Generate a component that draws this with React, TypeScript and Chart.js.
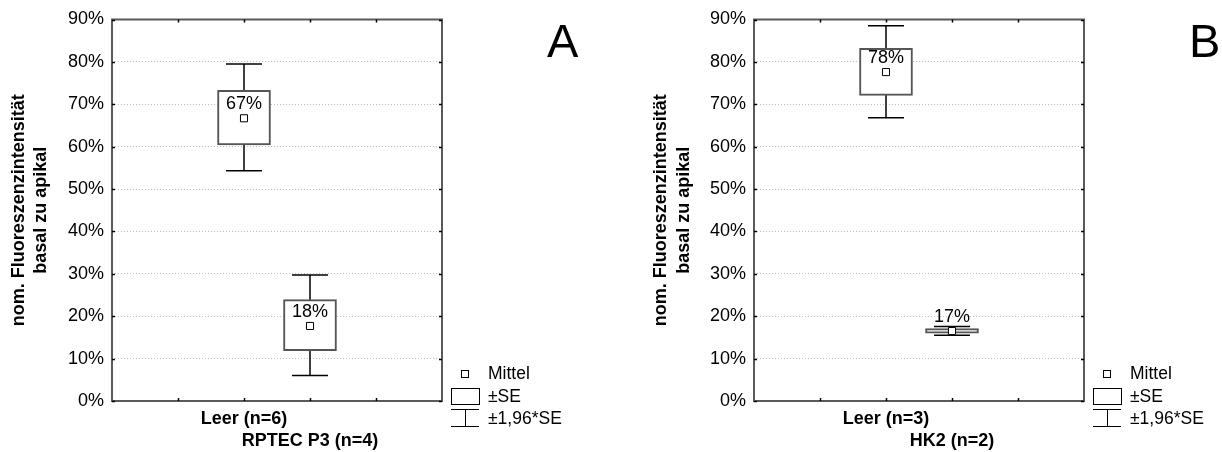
import React, { useEffect, useRef } from 'react';
import { Chart, registerables } from 'chart.js';

Chart.register(...registerables);

// ---- shared axis data ----
const yTickValues = [0, 10, 20, 30, 40, 50, 60, 70, 80, 90];
const xTickPositions = [1, 2, 3, 4];
const categoryPositions = [2, 3];
const yTitleLines = ['nom. Fluoreszenzintensität', 'basal zu apikal'];
const legendLabels = ['Mittel', '±SE', '±1,96*SE'];

// ---- panel A ----
const categoriesA = ['Leer (n=6)', 'RPTEC P3 (n=4)'];
const meanA = [66.7, 17.7];
const seLowA = [60.4, 11.9];
const seHighA = [73.3, 23.9];
const ciLowA = [54.3, 6.0];
const ciHighA = [79.5, 29.7];

// ---- panel B ----
const categoriesB = ['Leer (n=3)', 'HK2 (n=2)'];
const meanB = [77.6, 16.5];
const seLowB = [72.1, 16.0];
const seHighB = [83.2, 17.1];
const ciLowB = [66.8, 15.5];
const ciHighB = [88.5, 17.6];

const FONT = 'Arial, "Liberation Sans", sans-serif';

type Panel = {
  letter: string;
  categories: string[];
  mean: number[];
  seLow: number[];
  seHigh: number[];
  ciLow: number[];
  ciHigh: number[];
  plotLeft: number; // y-axis width inside canvas
  plotRight: number; // right edge of plot inside canvas
  titlePad: number;
};

const CW = 611;
const CH = 452;

function decorPlugin(p: Panel) {
  return {
    id: 'decor' + p.letter,
    afterDraw(chart: any) {
      const { ctx, chartArea } = chart;
      const { left, right, top, bottom } = chartArea;
      const xs = chart.scales.x;
      const ys = chart.scales.y;
      ctx.save();
      // frame
      ctx.strokeStyle = '#5a5a5a';
      ctx.lineWidth = 2;
      ctx.strokeRect(left, top, right - left, bottom - top);
      // inward tick marks
      ctx.strokeStyle = '#000';
      ctx.lineWidth = 1.5;
      ctx.beginPath();
      yTickValues.forEach((v) => {
        const py = Math.round(ys.getPixelForValue(v)) + 0.5;
        ctx.moveTo(left, py);
        ctx.lineTo(left + 3, py);
        ctx.moveTo(right, py);
        ctx.lineTo(right - 3, py);
      });
      xTickPositions.forEach((v) => {
        const px = Math.round(xs.getPixelForValue(v)) + 0.5;
        ctx.moveTo(px, bottom);
        ctx.lineTo(px, bottom - 3);
        ctx.moveTo(px, top);
        ctx.lineTo(px, top + 3);
      });
      ctx.stroke();

      // value labels above the means
      ctx.fillStyle = '#000';
      ctx.font = `18px ${FONT}`;
      ctx.textAlign = 'center';
      ctx.textBaseline = 'middle';
      categoryPositions.forEach((pos, i) => {
        const px = xs.getPixelForValue(pos);
        const py = ys.getPixelForValue(p.mean[i]);
        ctx.fillText(Math.round(p.mean[i]) + '%', px, py - 14);
      });

      // legend
      const mx = right + 23;
      ctx.lineWidth = 1;
      ctx.strokeStyle = '#000';
      ctx.fillStyle = '#fff';
      ctx.fillRect(mx - 3.5, 370.5, 7, 7);
      ctx.strokeRect(mx - 3.5, 370.5, 7, 7);
      ctx.strokeRect(right + 9.5, 388.5, 28, 16);
      ctx.beginPath();
      ctx.moveTo(right + 9, 409.5);
      ctx.lineTo(right + 37, 409.5);
      ctx.moveTo(mx + 0.5, 409.5);
      ctx.lineTo(mx + 0.5, 426.5);
      ctx.moveTo(right + 9, 426.5);
      ctx.lineTo(right + 37, 426.5);
      ctx.stroke();
      ctx.fillStyle = '#000';
      ctx.textAlign = 'left';
      ctx.textBaseline = 'middle';
      ctx.font = `17.5px ${FONT}`;
      const ly = [374.5, 397, 419];
      legendLabels.forEach((t, i) => ctx.fillText(t, right + 46, ly[i]));

      // panel letter
      ctx.font = `47px ${FONT}`;
      ctx.textBaseline = 'alphabetic';
      ctx.fillText(p.letter, right + 105, 57);
      ctx.restore();
    },
  };
}

function makeConfig(p: Panel): any {
  const whiskers = categoryPositions.map((x, i) => ({
    type: 'line',
    data: [
      { x, y: p.ciLow[i] },
      { x, y: p.ciHigh[i] },
    ],
    borderColor: '#000',
    borderWidth: 1.5,
    pointRadius: 0,
    order: 4,
  }));
  const caps = {
    type: 'scatter',
    data: categoryPositions.flatMap((x, i) => [
      { x, y: p.ciLow[i] },
      { x, y: p.ciHigh[i] },
    ]),
    pointStyle: 'line',
    pointRadius: 18,
    pointHoverRadius: 18,
    pointBorderWidth: 1.5,
    pointBorderColor: '#000',
    order: 3,
  };
  const boxes = {
    type: 'bar',
    data: categoryPositions.map((x, i) => ({ x, y: [p.seLow[i], p.seHigh[i]] })),
    barThickness: 53,
    backgroundColor: '#fff',
    borderColor: '#555',
    borderWidth: 2,
    borderSkipped: false,
    order: 2,
  };
  const means = {
    type: 'scatter',
    data: categoryPositions.map((x, i) => ({ x, y: p.mean[i] })),
    pointStyle: 'rect',
    pointRadius: 5,
    pointHoverRadius: 5,
    pointBackgroundColor: '#fff',
    pointBorderColor: '#000',
    pointBorderWidth: 1,
    order: 1,
  };

  return {
    type: 'scatter',
    data: { datasets: [...whiskers, caps, boxes, means] },
    plugins: [decorPlugin(p)],
    options: {
      responsive: false,
      animation: false,
      events: [],
      layout: { padding: { left: 0, top: 19, right: CW - p.plotRight, bottom: 0 } },
      plugins: { legend: { display: false }, tooltip: { enabled: false } },
      scales: {
        x: {
          type: 'linear',
          min: 0,
          max: 5,
          offset: false,
          afterBuildTicks: (scale: any) => {
            scale.ticks = xTickPositions.map((v) => ({ value: v }));
          },
          afterFit: (scale: any) => {
            scale.height = CH - 401;
          },
          ticks: {
            autoSkip: false,
            maxRotation: 0,
            minRotation: 0,
            padding: 7,
            color: '#000',
            font: { family: FONT, size: 18, weight: 'bold', lineHeight: '21.7px' },
            callback: (v: number) => {
              const i = categoryPositions.indexOf(v);
              if (i < 0) return '';
              if (i === 0) return p.categories[0];
              return [...Array(i).fill(''), p.categories[i]];
            },
          },
          grid: { display: false, drawTicks: false },
          border: { display: false },
        },
        y: {
          type: 'linear',
          min: 0,
          max: 90,
          afterFit: (scale: any) => {
            scale.width = p.plotLeft;
          },
          ticks: {
            stepSize: 10,
            padding: 8,
            color: '#000',
            font: { family: FONT, size: 18 },
            callback: (v: number) => v + '%',
          },
          grid: {
            drawTicks: false,
            lineWidth: 1,
            color: (c: any) =>
              c.tick && (c.tick.value === 0 || c.tick.value === 90) ? 'rgba(0,0,0,0)' : '#bdbdbd',
          },
          border: { display: false, dash: [1, 2] },
          title: {
            display: true,
            text: yTitleLines,
            color: '#000',
            font: { family: FONT, size: 18, weight: 'bold', lineHeight: '22.5px' },
            padding: { top: p.titlePad, bottom: 0 },
          },
        },
      },
    },
  };
}

const panelA: Panel = {
  letter: 'A',
  categories: categoriesA,
  mean: meanA,
  seLow: seLowA,
  seHigh: seHighA,
  ciLow: ciLowA,
  ciHigh: ciHighA,
  plotLeft: 112,
  plotRight: 442,
  titlePad: 19 - 11.25,
};

const panelB: Panel = {
  letter: 'B',
  categories: categoriesB,
  mean: meanB,
  seLow: seLowB,
  seHigh: seHighB,
  ciLow: ciLowB,
  ciHigh: ciHighB,
  plotLeft: 754 - CW,
  plotRight: 1084 - CW,
  titlePad: 661.5 - CW - 11.25,
};

function ChartPanel({ panel, left }: { panel: Panel; left: number }) {
  const ref = useRef<HTMLCanvasElement>(null);
  useEffect(() => {
    if (!ref.current) return;
    const chart = new Chart(ref.current, makeConfig(panel));
    return () => chart.destroy();
  }, [panel]);
  return (
    <canvas
      ref={ref}
      width={CW}
      height={CH}
      style={{ position: 'absolute', left, top: 0, width: CW, height: CH }}
    />
  );
}

export default function App() {
  return (
    <div
      style={{
        position: 'absolute',
        left: 0,
        top: 0,
        width: 1222,
        height: 452,
        background: '#fff',
        overflow: 'hidden',
      }}
    >
      <ChartPanel panel={panelA} left={0} />
      <ChartPanel panel={panelB} left={CW} />
    </div>
  );
}
